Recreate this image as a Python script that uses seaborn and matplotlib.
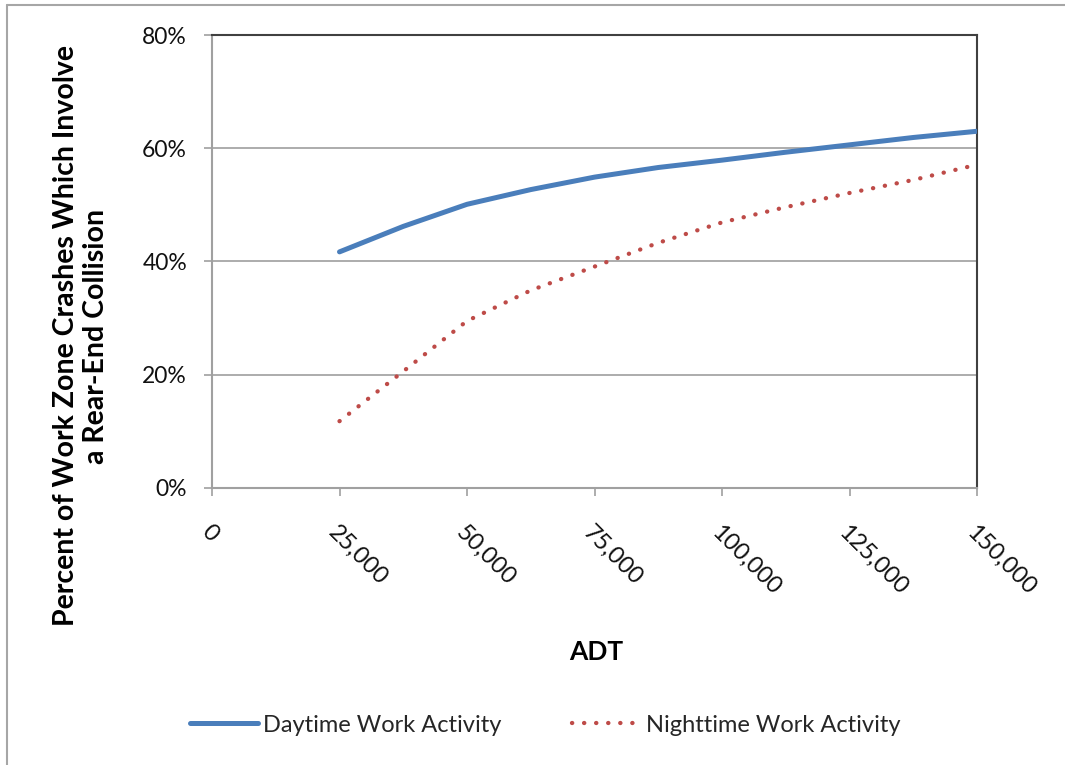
import matplotlib
matplotlib.use("Agg")
import matplotlib.pyplot as plt
from matplotlib.lines import Line2D
from matplotlib.ticker import FuncFormatter
import seaborn as sns
import pandas as pd

# Data
adt = [25000, 37500, 50000, 62500, 75000, 87500, 100000, 112500, 125000, 137500, 150000]
daytime = [41.7, 46.2, 50.1, 52.7, 54.9, 56.6, 57.9, 59.3, 60.6, 61.9, 63.0]
nighttime = [11.8, 20.6, 29.5, 34.9, 39.1, 43.3, 46.9, 49.6, 52.1, 54.4, 57.1]
x_ticks = [0, 25000, 50000, 75000, 100000, 125000, 150000]
y_ticks = [0, 20, 40, 60, 80]
series_names = ["Daytime Work Activity", "Nighttime Work Activity"]

sns.set_theme(style="white")
plt.rcParams["font.family"] = ["Lato", "DejaVu Sans"]

W, H = 1065, 765
fig = plt.figure(figsize=(W / 100, H / 100), dpi=100)
ax = fig.add_axes([212 / W, 1 - 488 / H, (977 - 212) / W, (488 - 35) / H])

df_day = pd.DataFrame({"ADT": adt, "pct": daytime})
df_night = pd.DataFrame({"ADT": adt, "pct": nighttime})

blue = "#4a7ebb"
red = "#be4b48"

sns.lineplot(data=df_day, x="ADT", y="pct", ax=ax, color=blue, lw=3.6,
             solid_capstyle="round", solid_joinstyle="round",
             label=series_names[0], zorder=4)
sns.lineplot(data=df_night, x="ADT", y="pct", ax=ax, color=red, lw=3.1,
             linestyle=(0, (0.05, 2.75)), dash_capstyle="round",
             label=series_names[1], zorder=4)

ax.set_xlim(0, 150000)
ax.set_ylim(0, 80)
ax.set_xticks(x_ticks)
ax.set_yticks(y_ticks)
ax.xaxis.set_major_formatter(FuncFormatter(lambda v, p: f"{int(v):,}"))
ax.yaxis.set_major_formatter(FuncFormatter(lambda v, p: f"{int(v)}%"))

ax.grid(axis="y", color="#a6a6a6", lw=1.3)
ax.grid(axis="x", visible=False)
ax.set_axisbelow(True)

for s in ["top", "right"]:
    ax.spines[s].set_color("#404040")
    ax.spines[s].set_linewidth(1.5)
for s in ["left", "bottom"]:
    ax.spines[s].set_color("#a0a0a0")
    ax.spines[s].set_linewidth(1.5)

ax.tick_params(axis="both", which="major", length=6, width=1.2, color="#a0a0a0",
               direction="out", labelcolor="#111111")
ax.tick_params(axis="x", bottom=True, pad=18, labelsize=17)
ax.tick_params(axis="y", left=True, pad=12, labelsize=16.5)
for lab in ax.get_xticklabels():
    lab.set_rotation(-45)
    lab.set_ha("left")
    lab.set_va("top")
    lab.set_rotation_mode("anchor")

ax.set_xlabel("")
ax.set_ylabel("")

fig.text(596 / W, 1 - 652 / H, "ADT", ha="center", va="center",
         fontsize=19, fontweight="bold", color="#000000")
fig.text(81 / W, 1 - 336 / H,
         "Percent of Work Zone Crashes Which Involve\na Rear-End Collision",
         ha="center", va="center", rotation=90, multialignment="center",
         fontsize=20.5, fontweight="bold", color="#000000", linespacing=1.15)

handles, labels = ax.get_legend_handles_labels()
ax.legend(handles, labels, loc="center", bbox_to_anchor=(545 / W, 1 - 725 / H),
          bbox_transform=fig.transFigure, ncol=2, frameon=False, fontsize=17,
          handlelength=2.9, handletextpad=0.2, columnspacing=3.0)

# outer chart border
fig.add_artist(Line2D([7 / W, 7 / W], [0, 1 - 5 / H], transform=fig.transFigure,
                      color="#a6a6a6", lw=1.5))
fig.add_artist(Line2D([7 / W, 1], [1 - 5 / H, 1 - 5 / H], transform=fig.transFigure,
                      color="#a6a6a6", lw=1.5))

fig.savefig("out.png", dpi=100, facecolor="white")
